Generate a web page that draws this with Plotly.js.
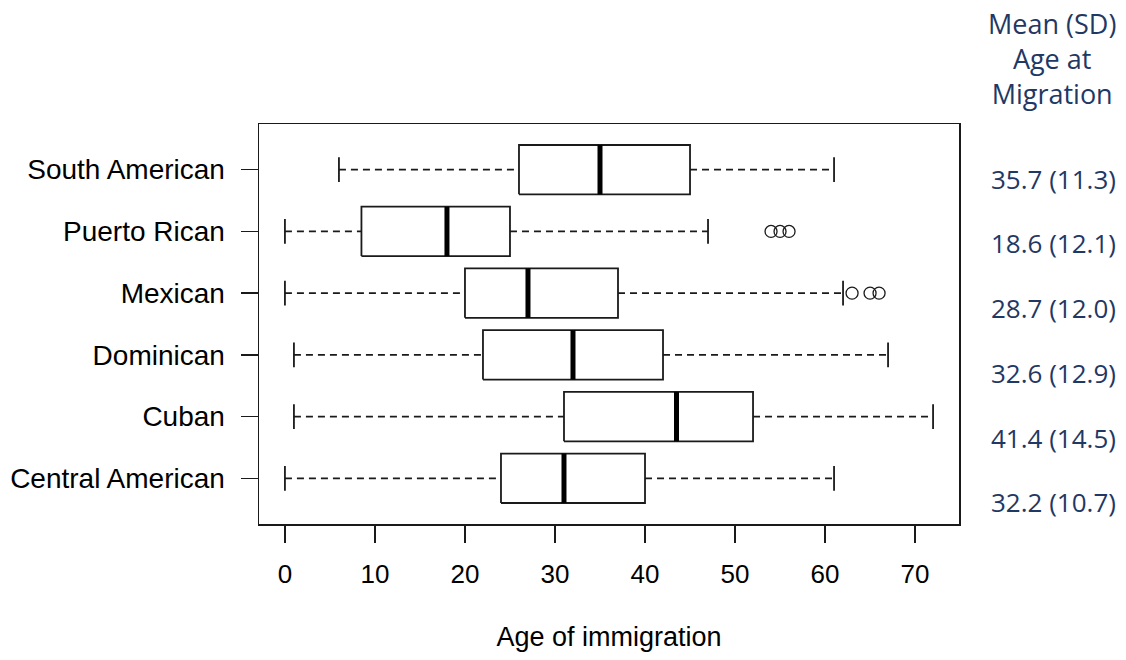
<!DOCTYPE html>
<html>
<head>
<meta charset="utf-8">
<script src="https://cdn.plot.ly/plotly-3.0.1.min.js"></script>
<style>html,body{margin:0;padding:0;background:#fff;}#chart{width:1126px;height:660px;}</style>
</head>
<body>
<div id="chart"></div>
<script>
// Categories from bottom to top
const categories = ["Central American", "Cuban", "Dominican", "Mexican", "Puerto Rican", "South American"];
const lowerWhisker = [0, 1, 1, 0, 0, 6];
const q1 = [24, 31, 22, 20, 8.5, 26];
const median = [31, 43.5, 32, 27, 18, 35];
const q3 = [40, 52, 42, 37, 25, 45];
const upperWhisker = [61, 72, 67, 62, 47, 61];
const outliers = [[], [], [], [63, 65, 66], [54, 55, 56], []];
const meanSD = ["32.2 (10.7)", "41.4 (14.5)", "32.6 (12.9)", "28.7 (12.0)", "18.6 (12.1)", "35.7 (11.3)"];
const xTicks = [0, 10, 20, 30, 40, 50, 60, 70];
const header = "Mean (SD)<br>Age at<br>Migration";

const pos = categories.map((c, i) => i + 1);
const HALF = 0.4, CAP = 0.2;
const lineCol = "#1a1a1a";

const wx = [], wy = [], cx = [], cy = [], bx = [], by = [], mx = [], my = [], ox = [], oy = [];
pos.forEach((p, i) => {
  wx.push(lowerWhisker[i], q1[i], null, q3[i], upperWhisker[i], null);
  wy.push(p, p, null, p, p, null);
  cx.push(lowerWhisker[i], lowerWhisker[i], null, upperWhisker[i], upperWhisker[i], null);
  cy.push(p - CAP, p + CAP, null, p - CAP, p + CAP, null);
  bx.push(q1[i], q3[i], q3[i], q1[i], q1[i], null);
  by.push(p - HALF, p - HALF, p + HALF, p + HALF, p - HALF, null);
  mx.push(median[i], median[i], null);
  my.push(p - HALF, p + HALF, null);
  outliers[i].forEach(v => { ox.push(v); oy.push(p); });
});

const traces = [
  {type: "scatter", mode: "lines", x: wx, y: wy, line: {color: lineCol, width: 1.8, dash: "7px,5px"}, hoverinfo: "skip"},
  {type: "scatter", mode: "lines", x: cx, y: cy, line: {color: lineCol, width: 1.8}, hoverinfo: "skip"},
  {type: "scatter", mode: "lines", x: bx, y: by, line: {color: lineCol, width: 1.8}, hoverinfo: "skip"},
  {type: "scatter", mode: "lines", x: mx, y: my, line: {color: "#000", width: 5}, hoverinfo: "skip"},
  {type: "scatter", mode: "markers", x: ox, y: oy, marker: {symbol: "circle-open", size: 12, color: lineCol, line: {width: 1.3}}, hoverinfo: "skip"}
];

const font = "Liberation Sans, Arial, sans-serif";
const blue = "#1f3864";
const plotTop = 124.4, plotH = 399.2;
const annotations = [];
annotations.push({xref: "paper", yref: "paper", x: 1, xshift: 93, xanchor: "center",
  y: (plotTop + plotH - 59) / plotH, yanchor: "middle", text: header, showarrow: false,
  font: {family: "Open Sans, sans-serif", size: 27, color: blue}, align: "center"});
meanSD.forEach((t, i) => {
  const row = categories.length - 1 - i;
  const ypx = 179 + row * 64.6;
  annotations.push({xref: "paper", yref: "paper", x: 1, xshift: 30, xanchor: "left",
    y: (plotTop + plotH - ypx) / plotH, yanchor: "middle", text: t, showarrow: false,
    font: {family: "Open Sans, sans-serif", size: 26, color: blue}});
});

const layout = {
  width: 1126, height: 660,
  margin: {l: 258.5, r: 167.2, t: 124.4, b: 136.4},
  paper_bgcolor: "#fff", plot_bgcolor: "#fff",
  showlegend: false,
  font: {family: font, color: "#000"},
  xaxis: {
    range: [-2.88, 74.88], tickvals: xTicks, ticktext: xTicks.map(String),
    ticks: "outside", ticklen: 17, tickwidth: 1.3, tickcolor: lineCol,
    showline: true, mirror: true, linecolor: lineCol, linewidth: 1.5,
    showgrid: false, zeroline: false, ticklabelstandoff: 9,
    tickfont: {family: font, size: 26, color: "#000"},
    title: {text: "Age of immigration", font: {family: font, size: 27, color: "#000"}, standoff: 39}
  },
  yaxis: {
    range: [0.26, 6.74], tickvals: pos, ticktext: categories,
    ticks: "outside", ticklen: 17, tickwidth: 1.3, tickcolor: lineCol,
    showline: true, mirror: true, linecolor: lineCol, linewidth: 1.5,
    showgrid: false, zeroline: false, ticklabelstandoff: 10,
    tickfont: {family: font, size: 28, color: "#000"}
  },
  annotations: annotations
};

Plotly.newPlot("chart", traces, layout, {staticPlot: true, displayModeBar: false});
</script>
</body>
</html>
